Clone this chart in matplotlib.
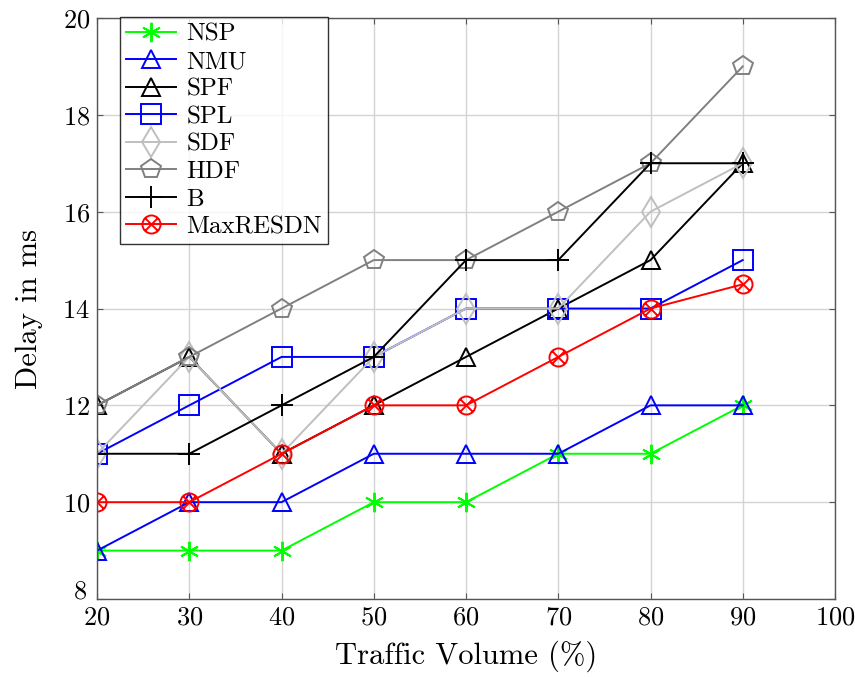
import numpy as np
import matplotlib
matplotlib.use("Agg")
import matplotlib.pyplot as plt
from matplotlib.path import Path
from matplotlib.transforms import ScaledTranslation

plt.rcParams["font.family"] = "cmr10"
plt.rcParams["mathtext.fontset"] = "cm"
plt.rcParams["axes.formatter.use_mathtext"] = True

# traffic volume (%) and delay (ms) per scheme
traffic = [20, 30, 40, 50, 60, 70, 80, 90]
nsp = [9, 9, 9, 10, 10, 11, 11, 12]
nmu = [9, 10, 10, 11, 11, 11, 12, 12]
spf = [12, 13, 11, 12, 13, 14, 15, 17]
spl = [11, 12, 13, 13, 14, 14, 14, 15]
sdf = [11, 13, 11, 13, 14, 14, 16, 17]
hdf = [12, 13, 14, 15, 15, 16, 17, 19]
b = [11, 11, 12, 13, 15, 15, 17, 17]
maxresdn = [10, 10, 11, 12, 12, 13, 14, 14.5]

# circle with a cross inside (otimes)
d = 0.7071
otimes = Path.make_compound_path(
    Path.unit_circle(),
    Path([(-d, -d), (d, d)], [Path.MOVETO, Path.LINETO]),
    Path([(-d, d), (d, -d)], [Path.MOVETO, Path.LINETO]),
)

fig = plt.figure(figsize=(8.55, 6.77), dpi=100)
ax = fig.add_axes([0.1135, 0.1152, 0.8631, 0.8582])

lw = 1.4
series = [
    ("NSP", nsp, (0, 1, 0), (6, 2, 0), 14),
    ("NMU", nmu, (0, 0, 1), "^", 13),
    ("SPF", spf, "black", "^", 13),
    ("SPL", spl, (0, 0, 1), "s", 14),
    ("SDF", sdf, "#bfbfbf", "d", 15),
    ("HDF", hdf, "#808080", "p", 15),
    ("B", b, "black", "+", 16),
    ("MaxRESDN", maxresdn, (1, 0, 0), otimes, 13),
]
for name, vals, col, mk, ms in series:
    ax.plot(traffic, vals, color=col, lw=lw, marker=mk, markersize=ms,
            markerfacecolor="none", markeredgecolor=col, markeredgewidth=lw,
            label=name)

ax.set_xlim(20, 100)
ax.set_ylim(8, 20)
ax.set_xticks(np.arange(20, 101, 10))
ax.set_yticks(np.arange(8, 21, 2))
ax.grid(True, color="#d4d4d4", lw=1.0)
ax.set_axisbelow(True)
for s in ax.spines.values():
    s.set_color("#555555")
    s.set_linewidth(1.0)
ax.tick_params(direction="in", length=4, color="#555555", labelsize=19,
               top=True, right=True, pad=5)

# lift the lowest y label so it clears the first x label
lab8 = ax.get_yticklabels()[0]
lab8.set_transform(lab8.get_transform() +
                   ScaledTranslation(-2 / 72, 7 / 72, fig.dpi_scale_trans))

ax.set_xlabel("Traffic Volume (%)", fontsize=22, labelpad=8)
ax.set_ylabel("Delay in ms", fontsize=22, labelpad=14)

leg = ax.legend(loc="upper left", bbox_to_anchor=(0.031, 1.002), fontsize=18,
                frameon=True, fancybox=False, edgecolor="black",
                handlelength=2.0, handletextpad=0.4, labelspacing=0.2,
                borderpad=0.25, borderaxespad=0.0)
leg.get_frame().set_linewidth(1.0)

fig.savefig("out.png", dpi=100)
